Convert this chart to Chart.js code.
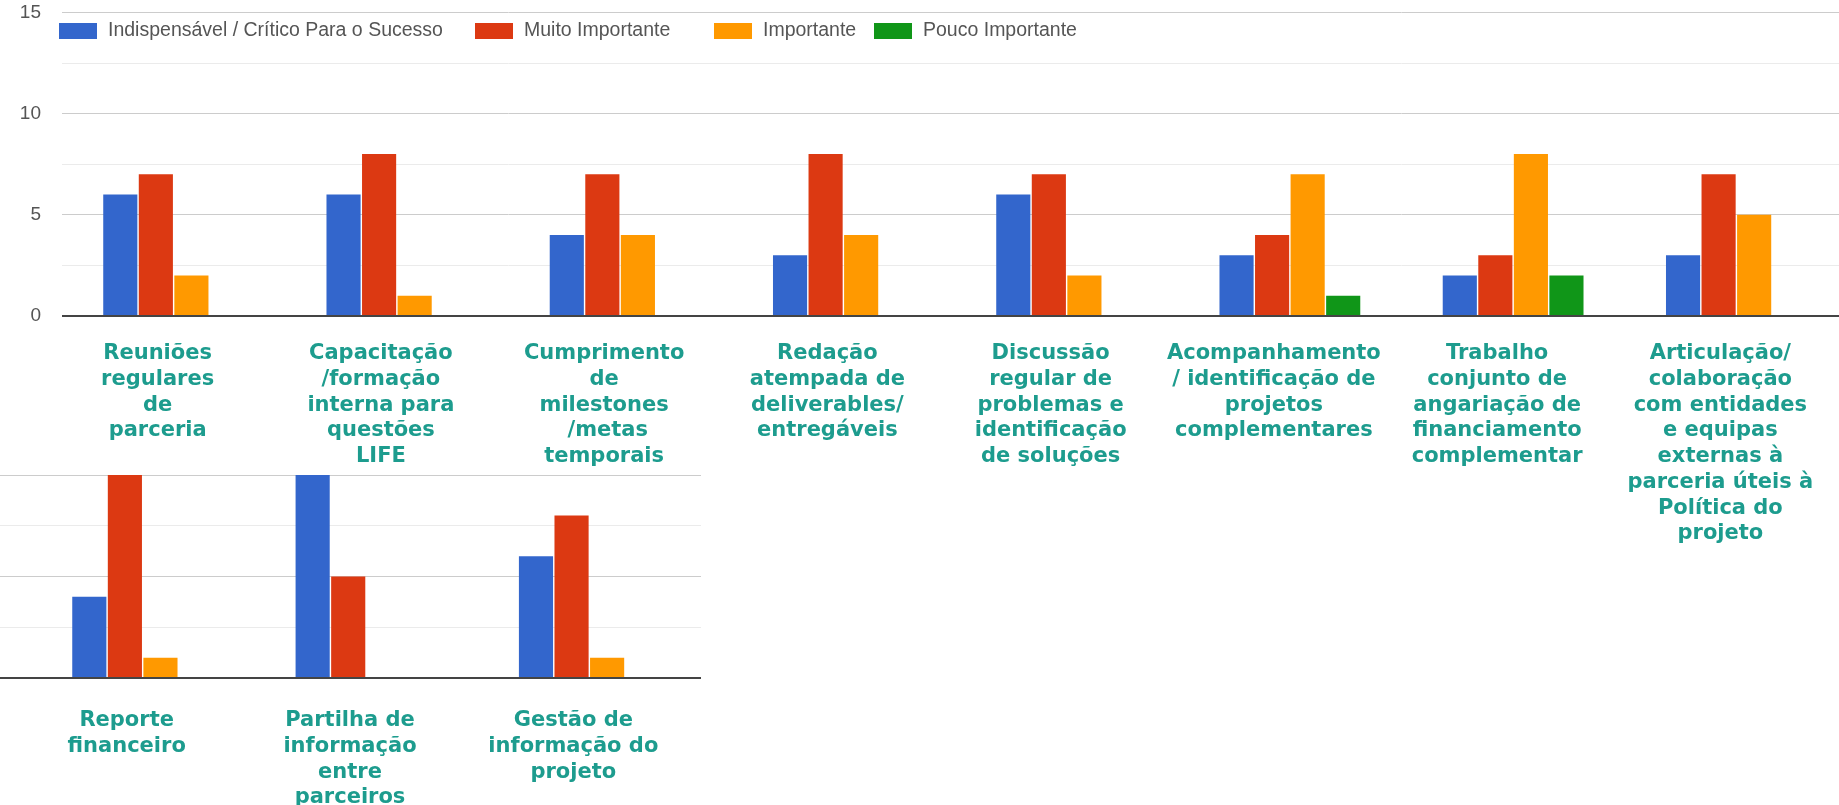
<!DOCTYPE html>
<html><head><meta charset="utf-8">
<script src="https://cdn.jsdelivr.net/npm/chart.js@4.4.1/dist/chart.umd.min.js"></script>
<style>
html,body{margin:0;padding:0;background:#fff;overflow:hidden;width:1839px;height:805px;position:relative}
#top{position:absolute;left:0;top:-20px}
#bot{position:absolute;left:0;top:455px}
</style></head><body>
<canvas id="top" width="1848" height="580"></canvas>
<canvas id="bot" width="701" height="350"></canvas>
<script>
// ---- data ----
const seriesNames = ['Indispensável / Crítico Para o Sucesso','Muito Importante','Importante','Pouco Importante'];
const seriesColors = ['#3366cc','#dc3912','#ff9900','#109618'];

const categoriesTop = [
  ['Reuniões','regulares','de','parceria'],
  ['Capacitação','/formação','interna para','questões','LIFE'],
  ['Cumprimento','de','milestones',' /metas','temporais'],
  ['Redação','atempada de','deliverables/','entregáveis'],
  ['Discussão','regular de','problemas e','identificação','de soluções'],
  ['Acompanhamento','/ identificação de','projetos','complementares'],
  ['Trabalho','conjunto de','angariação de','financiamento','complementar'],
  ['Articulação/','colaboração','com entidades','e equipas','externas à','parceria úteis à','Política do','projeto']
];
const indispensavelTop = [6,6,4,3,6,3,2,3];
const muitoTop         = [7,8,7,8,7,4,3,7];
const importanteTop    = [2,1,4,4,2,7,8,5];
const poucoTop         = [0,0,0,0,0,1,2,0];

const categoriesBottom = [
  ['Reporte','financeiro'],
  ['Partilha de','informação','entre','parceiros'],
  ['Gestão de','informação do','projeto']
];
const indispensavelBottom = [4,10,6];
const muitoBottom         = [10,5,8];
const importanteBottom    = [1,0,1];
const poucoBottom         = [0,0,0];

const yTickLabelsTop = {0:'0',5:'5',10:'10',15:'15'};

// ---- layout / style ----
const LEGEND_X = [59,475,714,874];
const TEAL = '#1d9c8e';

function makeDatasets(vals){
  return vals.map((v,i)=>({
    label: seriesNames[i], data: v, backgroundColor: seriesColors[i],
    borderWidth: 0, categoryPercentage: 0.637, barPercentage: 0.96
  }));
}
function gridColor(ctx){
  const v = ctx.tick ? ctx.tick.value : null;
  if (v === 0) return '#444';
  return (v % 5 === 0) ? '#cccccc' : '#ebebeb';
}
function gridWidth(ctx){ return (ctx.tick && ctx.tick.value === 0) ? 2 : 1; }

const legendPlugin = {
  id: 'gLegend',
  afterDraw(chart){
    const ctx = chart.ctx;
    ctx.save();
    ctx.font = '19.5px "Liberation Sans", Arial, sans-serif';
    ctx.textBaseline = 'middle';
    ctx.textAlign = 'left';
    chart.data.datasets.forEach((ds,i)=>{
      const x = LEGEND_X[i];
      ctx.fillStyle = ds.backgroundColor;
      ctx.fillRect(x, 43, 38, 16);
      ctx.fillStyle = '#555';
      ctx.fillText(ds.label, x + 49, 51);
    });
    ctx.restore();
  }
};

const labelFont = {family: '"DejaVu Sans", Verdana, sans-serif', weight: 'bold', size: 21, lineHeight: 1.224};

new Chart(document.getElementById('top'), {
  type: 'bar',
  data: { labels: categoriesTop, datasets: makeDatasets([indispensavelTop, muitoTop, importanteTop, poucoTop]) },
  options: {
    responsive: false, animation: false, devicePixelRatio: 1,
    layout: { padding: { top: 30, right: 0, left: 0, bottom: 0 } },
    plugins: { legend: { display: false }, tooltip: { enabled: false } },
    scales: {
      x: {
        grid: { display: false }, border: { display: false },
        ticks: { color: TEAL, font: labelFont, padding: 17, autoSkip: false, maxRotation: 0, minRotation: 0, labelOffset: -16 },
        afterFit: (a) => { a.height = 244; }
      },
      y: {
        min: 0, max: 15,
        border: { display: false },
        grid: { color: gridColor, lineWidth: gridWidth, drawTicks: false },
        ticks: { stepSize: 2.5, padding: 21, color: '#555',
          font: { family: '"Liberation Sans", Arial, sans-serif', size: 19 },
          callback: (v) => (yTickLabelsTop[v] !== undefined ? yTickLabelsTop[v] : '') },
        afterFit: (a) => { a.width = 62; }
      }
    }
  },
  plugins: [legendPlugin]
});

new Chart(document.getElementById('bot'), {
  type: 'bar',
  data: { labels: categoriesBottom, datasets: makeDatasets([indispensavelBottom, muitoBottom, importanteBottom, poucoBottom]) },
  options: {
    responsive: false, animation: false, devicePixelRatio: 1,
    layout: { padding: { top: 20, right: 0, left: 0, bottom: 0 } },
    plugins: { legend: { display: false }, tooltip: { enabled: false } },
    scales: {
      x: {
        grid: { display: false }, border: { display: false },
        ticks: { color: TEAL, font: labelFont, padding: 22, autoSkip: false, maxRotation: 0, minRotation: 0, labelOffset: -16 },
        afterFit: (a) => { a.height = 127; }
      },
      y: {
        min: 0, max: 10,
        border: { display: false },
        grid: { color: gridColor, lineWidth: gridWidth, drawTicks: true, tickLength: 31 },
        ticks: { stepSize: 2.5, display: false },
        afterFit: (a) => { a.width = 31; }
      }
    }
  }
});
</script>
</body></html>
